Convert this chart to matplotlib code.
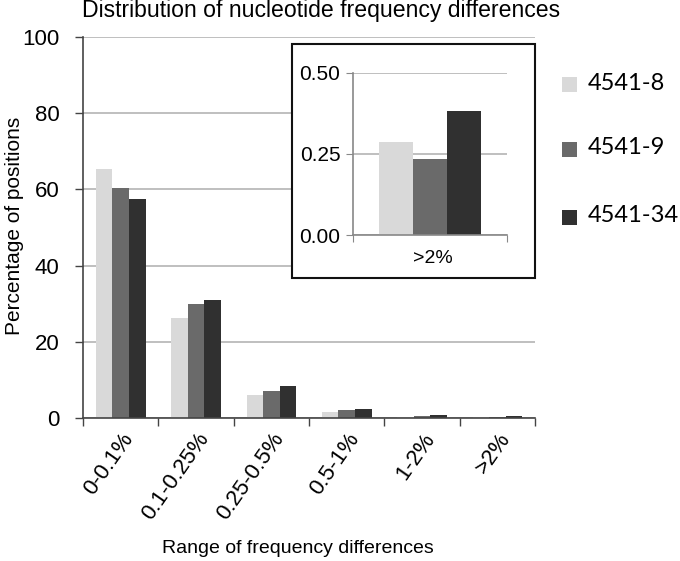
import matplotlib
matplotlib.use("Agg")
import matplotlib.pyplot as plt
import numpy as np
from matplotlib.patches import Rectangle

plt.rcParams["font.family"] = ["Liberation Sans", "DejaVu Sans"]

categories = ["0-0.1%", "0.1-0.25%", "0.25-0.5%", "0.5-1%", "1-2%", ">2%"]
series_names = ["4541-8", "4541-9", "4541-34"]
vals_4541_8 = [65.4, 26.2, 6.1, 1.6, 0.2, 0.29]
vals_4541_9 = [60.4, 29.9, 7.2, 2.1, 0.4, 0.24]
vals_4541_34 = [57.5, 30.9, 8.3, 2.4, 0.8, 0.38]
inset_label = ">2%"
inset_vals = [0.286, 0.236, 0.384]

COLORS = ["#d9d9d9", "#6a6a6a", "#303030"]
GRID = "#b4b4b4"

fig = plt.figure(figsize=(6.8, 5.61), dpi=100)

# main chart
ax = fig.add_axes([0.122, 0.255, 0.665, 0.679])
x = np.arange(len(categories))
width = 0.22
for i, vals in enumerate([vals_4541_8, vals_4541_9, vals_4541_34]):
    ax.bar(x + (i - 1) * width, vals, width, color=COLORS[i], zorder=2)

ax.set_xlim(-0.5, len(categories) - 0.5)
ax.set_ylim(0, 100)
ax.set_yticks(range(0, 101, 20))
ax.yaxis.grid(True, color=GRID, linewidth=1.2, zorder=0)
ax.set_axisbelow(True)
for side in ["top", "right"]:
    ax.spines[side].set_visible(False)
for side in ["left", "bottom"]:
    ax.spines[side].set_color("#444444")
    ax.spines[side].set_linewidth(1.2)
ax.tick_params(axis="y", labelsize=16, length=6, color="#444444", width=1.0, pad=11)
ax.set_xticks(np.arange(len(categories) + 1) - 0.5)
ax.set_xticklabels([])
ax.tick_params(axis="x", length=6, color="#444444", width=1.0)
for xi, lab in zip(x, categories):
    ax.annotate(lab, (xi, 0), xycoords=("data", "axes fraction"),
                xytext=(0, -8), textcoords="offset points",
                rotation=55, ha="right", va="top", rotation_mode="anchor",
                fontsize=16)
fig.text(0.022, 0.597, "Percentage of positions", rotation=90, ha="center",
         va="center", fontsize=15)
fig.text(0.4375, 0.023, "Range of frequency differences", ha="center", va="center",
         fontsize=14)
fig.text(0.121, 0.981, "Distribution of nucleotide frequency differences",
         ha="left", va="center", fontsize=16.6)

# inset frame
fig.patches.append(Rectangle((0.4294, 0.5045), 0.357, 0.417, transform=fig.transFigure,
                             facecolor="white", edgecolor="#111111", linewidth=1.5, zorder=3))

ins = fig.add_axes([0.519, 0.581, 0.2265, 0.289], zorder=4)
ins.patch.set_alpha(0)
for i, v in enumerate(inset_vals):
    ins.bar((i - 1) * width, v, width, color=COLORS[i], zorder=2)
ins.set_xlim(-0.5, 0.5)
ins.set_ylim(0, 0.5)
ins.set_yticks([0, 0.25, 0.5])
ins.set_yticklabels(["0.00", "0.25", "0.50"])
ins.yaxis.grid(True, color=GRID, linewidth=1.2, zorder=0)
ins.set_axisbelow(True)
for side in ["top", "right"]:
    ins.spines[side].set_visible(False)
for side in ["left", "bottom"]:
    ins.spines[side].set_color("#888888")
    ins.spines[side].set_linewidth(1.2)
ins.set_xticks([-0.5, 0.5])
ins.set_xticklabels([])
ins.tick_params(axis="x", length=5, color="#888888")
ins.tick_params(axis="y", labelsize=15, length=5, color="#888888", pad=4)
ins.text(0.02, -0.09, inset_label, transform=ins.get_xaxis_transform(),
         ha="center", va="top", fontsize=14)

# legend
leg_y = [0.849, 0.7335, 0.613]
for i, name in enumerate(series_names):
    fig.patches.append(Rectangle((0.8265, leg_y[i] - 0.0134), 0.022, 0.0267,
                                 transform=fig.transFigure, facecolor=COLORS[i],
                                 edgecolor="none"))
    fig.text(0.864, leg_y[i] + 0.003, name, ha="left", va="center", fontsize=17,
             family=["Lato", "DejaVu Sans"])

fig.savefig("out.png", dpi=100)
